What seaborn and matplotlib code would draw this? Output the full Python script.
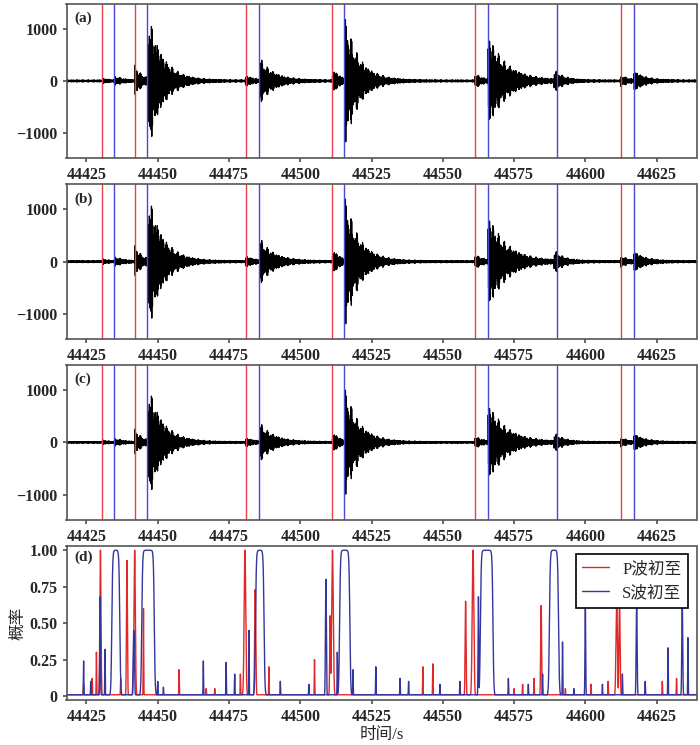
import numpy as np
import pandas as pd
import matplotlib
matplotlib.use("Agg")
import matplotlib.pyplot as plt
import seaborn as sns

sns.set_theme(style="ticks")
plt.rcParams['font.family'] = ['Liberation Serif', 'Noto Sans CJK SC']
plt.rcParams['axes.unicode_minus'] = True

# picks (s)
p_picks = [44430.6, 44441.9, 44480.8, 44511.3, 44561.2, 44612.4]
s_picks = [44434.8, 44446.4, 44485.4, 44515.5, 44565.7, 44590.0, 44617.0]

# events: onset, peak amplitude, decay time (s)
ev_onset = [44430.6, 44434.8, 44441.9, 44446.8, 44480.8, 44485.8, 44511.3, 44515.8, 44561.2, 44565.9, 44589.0, 44612.4, 44617.0]
ev_amp = [40, 80, 300, 1300, 100, 420, 250, 1200, 130, 900, 200, 110, 180]
ev_decay = [2, 3, 2.5, 5, 3, 5, 2.5, 5, 3, 6.5, 3, 2.5, 4]
panel_scale = [1.0, 1.02, 0.85]
panel_tags = ["(a)", "(b)", "(c)"]

# probability picks: centre, height, width (s)
pp_c = [44429.9, 44439.2, 44441.9, 44480.6, 44484.2, 44510.5, 44511.3, 44558.0, 44560.6, 44584.5, 44611.0, 44612.0]
pp_h = [1.0, 0.93, 1.0, 1.0, 0.73, 0.55, 1.0, 0.65, 1.0, 0.62, 0.68, 0.65]
pp_w = [0.5, 0.4, 0.6, 0.7, 0.5, 0.4, 0.7, 0.4, 0.7, 0.4, 0.6, 0.5]
sp_c = [44435.3, 44446.6, 44485.8, 44515.6, 44565.4, 44589.0, 44600.0, 44618.0, 44634.0, 44429.8, 44441.6, 44509.0, 44562.5]
sp_h = [1.0, 1.0, 1.0, 1.0, 1.0, 1.0, 0.65, 0.65, 0.65, 0.68, 0.45, 0.8, 0.68]
sp_w = [1.4, 2.2, 1.5, 1.8, 2.2, 1.6, 0.3, 0.4, 0.4, 0.3, 0.5, 0.4, 0.3]
sp_plateau = [True, True, True, True, True, True, False, False, False, False, False, False, False]
noise_p_t = [44424, 44427, 44428.5, 44437, 44445, 44457.5, 44467, 44470, 44479, 44489, 44505, 44543, 44546.5, 44575, 44578, 44582, 44593, 44602, 44608, 44627, 44632]
noise_p_h = [0.08, 0.12, 0.3, 0.12, 0.6, 0.18, 0.05, 0.05, 0.15, 0.2, 0.25, 0.2, 0.22, 0.05, 0.08, 0.12, 0.05, 0.08, 0.1, 0.1, 0.12]
noise_s_t = [44424, 44426.5, 44431.5, 44436.5, 44450, 44452, 44466, 44474, 44477, 44482, 44493, 44503, 44513, 44518.5, 44526.5, 44535, 44538, 44549, 44556, 44573, 44580, 44585, 44592, 44596, 44606, 44613, 44621, 44629, 44636]
noise_s_h = [0.24, 0.1, 0.32, 0.2, 0.1, 0.06, 0.24, 0.23, 0.15, 0.45, 0.1, 0.08, 0.3, 0.18, 0.2, 0.12, 0.1, 0.08, 0.1, 0.12, 0.08, 0.15, 0.37, 0.05, 0.08, 0.15, 0.1, 0.33, 0.4]

t = np.arange(44418, 44639, 0.02)

def waveform(scale):
    env = np.full_like(t, 20.0)
    for o, a, d in zip(ev_onset, ev_amp, ev_decay):
        m = t >= o
        env[m] += a * np.exp(-(t[m] - o) / d)
    jag = 0.5 + 0.5 * np.abs(np.sin(3.1 * t) * np.cos(1.7 * t + 0.4))
    return scale * env * jag * np.sin(2 * np.pi * 4.3 * t + 2 * np.sin(0.9 * t))

def prob(cs, hs, ws, plateau=None, nt=(), nh=()):
    y = np.zeros_like(t) + 0.008
    for i, (c, h, w) in enumerate(zip(cs, hs, ws)):
        if plateau is not None and plateau[i]:
            g = h / (1 + np.exp((np.abs(t - c) - w) / 0.15))
        else:
            g = h * np.exp(-0.5 * ((t - c) / (w / 2.5)) ** 2)
        y = np.maximum(y, g)
    for c, h in zip(nt, nh):
        y = np.maximum(y, h * np.exp(-0.5 * ((t - c) / 0.08) ** 2))
    return y

fig, axes = plt.subplots(4, 1, figsize=(7.0, 7.45), dpi=100)
fig.subplots_adjust(left=0.095, right=0.995, top=0.995, bottom=0.06, hspace=0.17)
xlim = (44418, 44639)
ticks = [44425, 44450, 44475, 44500, 44525, 44550, 44575, 44600, 44625]

for ax, sc, tag in zip(axes[:3], panel_scale, panel_tags):
    df = pd.DataFrame({"t": t, "amp": waveform(sc)})
    sns.lineplot(data=df, x="t", y="amp", ax=ax, color="black", lw=0.9, estimator=None)
    for x in p_picks:
        ax.axvline(x, color="#e8404a", lw=1)
    for x in s_picks:
        ax.axvline(x, color="#4a4ad0", lw=1)
    ax.set_ylim(-1480, 1480)
    ax.set_yticks([-1000, 0, 1000])
    ax.text(0.012, 0.95, tag, transform=ax.transAxes, fontsize=11, fontweight="bold", va="top")
    ax.set_ylabel("")

ax = axes[3]
dfp = pd.DataFrame({"t": t, "P": prob(pp_c, pp_h, pp_w, nt=noise_p_t, nh=noise_p_h),
                    "S": prob(sp_c, sp_h, sp_w, sp_plateau, noise_s_t, noise_s_h)})
sns.lineplot(data=dfp, x="t", y="P", ax=ax, color="#e02828", lw=1, estimator=None, label="P波初至")
sns.lineplot(data=dfp, x="t", y="S", ax=ax, color="#3535a0", lw=1, estimator=None, label="S波初至")
ax.set_ylim(-0.03, 1.03)
ax.set_yticks([0, 0.25, 0.5, 0.75, 1.0])
ax.set_yticklabels(["0", "0.25", "0.50", "0.75", "1.00"])
ax.set_ylabel("概率", fontsize=12, labelpad=2)
ax.set_xlabel("时间/s", fontsize=12, labelpad=1)
ax.text(0.012, 0.97, "(d)", transform=ax.transAxes, fontsize=11, fontweight="bold", va="top")
leg = ax.legend(loc="upper right", fontsize=12, frameon=True, fancybox=False, borderaxespad=0.5, handlelength=1.6)
leg.get_frame().set_edgecolor("black")
leg.get_frame().set_linewidth(1.2)
leg.get_frame().set_alpha(1)

for a in axes:
    a.set_xlim(*xlim)
    a.set_xticks(ticks)
    a.tick_params(labelsize=11.5, length=3, color="#555555")
    for lab in a.get_xticklabels() + a.get_yticklabels():
        lab.set_fontweight("bold")
    for s in a.spines.values():
        s.set_color("#555555")
        s.set_linewidth(1.2)
for a in axes[:3]:
    a.set_xlabel("")

fig.savefig("out.png", dpi=100)
